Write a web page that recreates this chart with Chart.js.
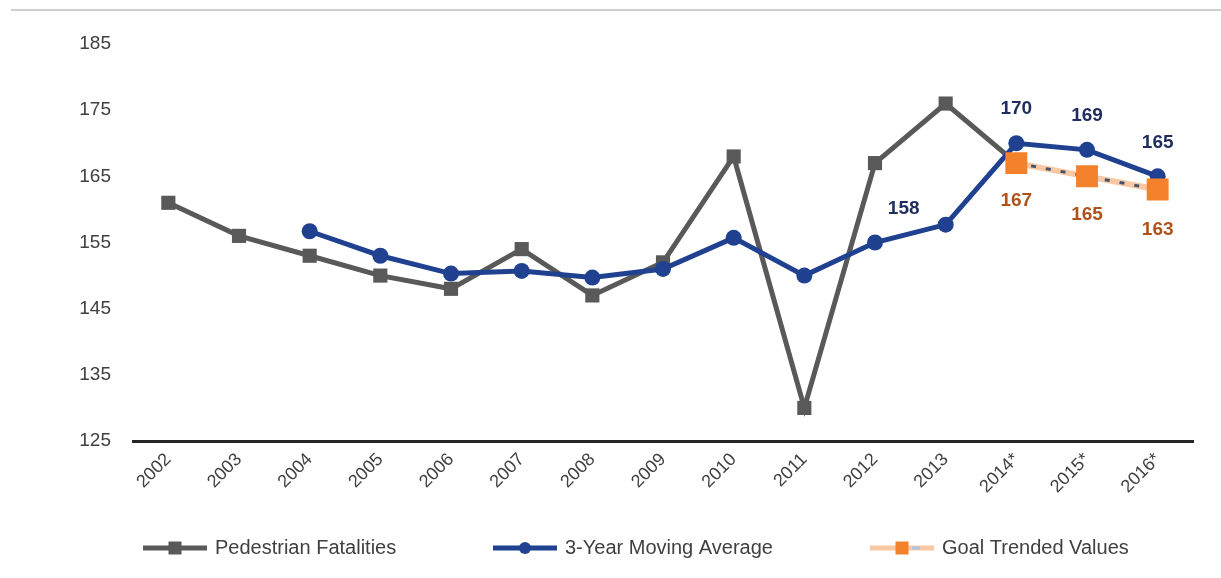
<!DOCTYPE html>
<html>
<head>
<meta charset="utf-8">
<script src="https://cdn.jsdelivr.net/npm/chart.js@4"></script>
<style>
  html, body { margin: 0; padding: 0; background: #fff; }
  #wrap { position: relative; width: 1221px; height: 578px; }
  #topline { position: absolute; left: 11px; right: 0; top: 9px; height: 0; border-top: 2px solid #cfcfcf; }
  #chart { position: absolute; left: 0; top: 0; }
</style>
</head>
<body>
<div id="wrap">
  <div id="topline"></div>
  <canvas id="chart" width="1221" height="578"></canvas>
</div>
<script>
// data
const years = ['2002', '2003', '2004', '2005', '2006', '2007', '2008', '2009', '2010',
  '2011', '2012', '2013', '2014*', '2015*', '2016*'];
const fatalities = [161, 156, 153, 150, 148, 154, 147, 152, 168, 130, 167, 176, 167, null, null];
const movingAvg = [null, null, 156.7, 153, 150.3, 150.7, 149.7, 151, 155.7, 150, 155, 157.7, 170, 169, 165];
const goalValues = [null, null, null, null, null, null, null, null, null, null, null, null, 167, 165, 163];
const yTicks = [125, 135, 145, 155, 165, 175, 185];

const GRAY = '#595959';
const BLUE = '#1f4190';
const ORANGE = '#f4822d';
const PEACH = '#f8c9a4';
const FONT = '"Liberation Sans", Arial, sans-serif';

// which points get a value label, and where it sits relative to the point
const labelSpots = {
  1: { 11: [-42, -16], 12: [0, -34], 13: [0, -34], 14: [0, -34] },
  2: { 12: [0, 38], 13: [0, 38], 14: [0, 40] }
};
const labelColors = { 1: '#1f2d5c', 2: '#b0531b' };

const valueLabels = {
  id: 'valueLabels',
  afterDatasetsDraw(chart) {
    const ctx = chart.ctx;
    ctx.save();
    ctx.font = 'bold 19px ' + FONT;
    ctx.textAlign = 'center';
    ctx.textBaseline = 'middle';
    Object.keys(labelSpots).forEach(di => {
      const meta = chart.getDatasetMeta(+di);
      const data = chart.data.datasets[di].data;
      ctx.fillStyle = labelColors[di];
      Object.keys(labelSpots[di]).forEach(i => {
        const pt = meta.data[i];
        const [dx, dy] = labelSpots[di][i];
        ctx.fillText(Math.round(data[i]), pt.x + dx, pt.y + dy);
      });
    });
    ctx.restore();
  }
};

// legend drawn by hand: line sample with its marker, then the dataset label
const legendX = [143, 493, 870];
const legendY = 548;
const bottomLegend = {
  id: 'bottomLegend',
  afterDraw(chart) {
    const ctx = chart.ctx;
    ctx.save();
    ctx.font = '20px ' + FONT;
    ctx.textBaseline = 'middle';
    chart.data.datasets.slice(0, 3).forEach((ds, i) => {
      const x = legendX[i];
      ctx.strokeStyle = ds.borderColor;
      ctx.lineWidth = 5;
      ctx.beginPath(); ctx.moveTo(x, legendY); ctx.lineTo(x + 64, legendY); ctx.stroke();
      if (i === 2) {
        ctx.strokeStyle = '#a9c4e4';
        ctx.lineWidth = 3;
        ctx.beginPath(); ctx.moveTo(x + 42, legendY); ctx.lineTo(x + 50, legendY); ctx.stroke();
      }
      ctx.fillStyle = ds.backgroundColor;
      if (ds.pointStyle === 'rect') {
        const s = 13;
        ctx.fillRect(x + 32 - s / 2, legendY - s / 2, s, s);
      } else {
        ctx.beginPath(); ctx.arc(x + 32, legendY, 6, 0, Math.PI * 2); ctx.fill();
      }
      ctx.fillStyle = '#404040';
      ctx.fillText(ds.label, x + 72, legendY);
    });
    ctx.restore();
  }
};

const ctx = document.getElementById('chart').getContext('2d');
const chart = new Chart(ctx, {
  type: 'line',
  data: {
    labels: years,
    datasets: [
      {
        label: 'Pedestrian Fatalities',
        data: fatalities,
        order: 4,
        borderColor: GRAY,
        backgroundColor: GRAY,
        borderWidth: 5,
        pointStyle: 'rect',
        pointRadius: 10,
        pointBorderWidth: 0,
        tension: 0
      },
      {
        label: '3-Year Moving Average',
        data: movingAvg,
        order: 3,
        borderColor: BLUE,
        backgroundColor: BLUE,
        borderWidth: 5,
        pointStyle: 'circle',
        pointRadius: 8,
        pointBorderWidth: 0,
        tension: 0
      },
      {
        // markers only; the goal line itself is the next two datasets
        label: 'Goal Trended Values',
        data: goalValues,
        order: 0,
        showLine: false,
        borderColor: PEACH,
        backgroundColor: ORANGE,
        pointStyle: 'rect',
        pointRadius: 15.5,
        pointBorderWidth: 0
      },
      {
        label: 'goal line',
        data: goalValues,
        order: 2,
        borderColor: PEACH,
        borderWidth: 6,
        pointRadius: 0,
        tension: 0
      },
      {
        label: 'goal dashes',
        data: goalValues,
        order: 1,
        borderColor: '#44546a',
        borderWidth: 3,
        borderDash: [5, 10],
        pointRadius: 0,
        tension: 0
      }
    ]
  },
  options: {
    responsive: false,
    animation: false,
    layout: { padding: { top: 44, right: 28, bottom: 48, left: 0 } },
    plugins: {
      tooltip: { enabled: false },
      legend: { display: false }
    },
    scales: {
      x: {
        offset: true,
        grid: { display: false, drawTicks: false },
        border: { display: true, color: '#262626', width: 3 },
        ticks: {
          minRotation: 45,
          maxRotation: 45,
          padding: 8,
          color: '#404040',
          font: { family: FONT, size: 18 }
        },
        afterFit(scale) { scale.height = 89; }
      },
      y: {
        min: 125,
        max: 185,
        grid: { display: false, drawTicks: false },
        border: { display: false },
        afterBuildTicks(scale) { scale.ticks = yTicks.map(v => ({ value: v })); },
        ticks: {
          padding: 22,
          color: '#404040',
          font: { family: FONT, size: 19 }
        },
        afterFit(scale) { scale.width = 133; }
      }
    }
  },
  plugins: [valueLabels, bottomLegend]
});
</script>
</body>
</html>
